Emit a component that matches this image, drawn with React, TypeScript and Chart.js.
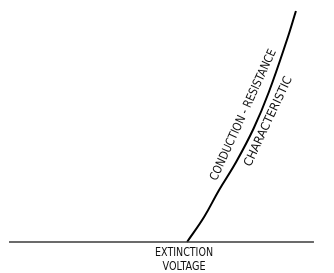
import React, { useEffect, useRef } from "react";
import { Chart, registerables } from "chart.js";

Chart.register(...registerables);

// Voltage (x, arbitrary units) vs conduction (y, arbitrary units)
const curveVoltage = [56.0, 61.1, 65.6, 70.7, 76.0, 80.5, 85.9, 88.6];
const curveValue = [0, 25, 52, 80, 114, 150, 202, 231];
const baselineVoltage = [2.7, 94];
const baselineValue = [0, 0];
const curveLabel = ["CONDUCTION - RESISTANCE", "CHARACTERISTIC"];
const axisLabel = ["EXTINCTION", "VOLTAGE"];

const FONT = '"DejaVu Sans", sans-serif';

const labelsPlugin = {
  id: "labels",
  afterDraw(chart: any) {
    const { ctx, scales } = chart;
    const x = scales.x;
    const y = scales.y;
    ctx.save();
    ctx.fillStyle = "#111";
    ctx.font = `12px ${FONT}`;
    try { (ctx as any).fontStretch = "condensed"; } catch (e) {}
    ctx.textAlign = "center";
    ctx.textBaseline = "middle";
    const rot = [
      { vx: 72.9, vy: 127, a: -65.3, len: 143 },
      { vx: 80.4, vy: 120.5, a: -64.8, len: 98 },
    ];
    curveLabel.forEach((t, i) => {
      ctx.save();
      ctx.translate(x.getPixelForValue(rot[i].vx), y.getPixelForValue(rot[i].vy));
      ctx.rotate((rot[i].a * Math.PI) / 180);
      const w = ctx.measureText(t).width;
      ctx.scale(rot[i].len / w, 1);
      ctx.fillText(t, 0, 0);
      ctx.restore();
    });
    const cx = x.getPixelForValue(55.1);
    const by = y.getPixelForValue(0);
    const lens = [58, 43];
    axisLabel.forEach((t, i) => {
      ctx.save();
      ctx.translate(cx, by + 11 + i * 14);
      const w = ctx.measureText(t).width;
      ctx.scale(lens[i] / w, 1);
      ctx.fillText(t, 0, 0);
      ctx.restore();
    });
    ctx.restore();
  },
};

export default function App() {
  const ref = useRef<HTMLCanvasElement>(null);
  useEffect(() => {
    document.body.style.margin = "0";
    const chart = new Chart(ref.current!, {
      type: "scatter",
      data: {
        datasets: [
          {
            data: baselineVoltage.map((v, i) => ({ x: v, y: baselineValue[i] })),
            showLine: true,
            borderColor: "#3a3a3a",
            borderWidth: 1.3,
            pointRadius: 0,
          },
          {
            data: curveVoltage.map((v, i) => ({ x: v, y: curveValue[i] })),
            showLine: true,
            borderColor: "#000",
            borderWidth: 2,
            pointRadius: 0,
            tension: 0.4,
          },
        ],
      },
      options: {
        animation: false,
        responsive: false,
        layout: { padding: 0 },
        plugins: { legend: { display: false }, tooltip: { enabled: false } },
        scales: {
          x: { type: "linear", min: 0, max: 100, display: false },
          y: { type: "linear", min: -31, max: 242, display: false },
        },
      },
      plugins: [labelsPlugin],
    });
    return () => chart.destroy();
  }, []);
  return (
    <div style={{ width: 334, height: 273, background: "#fff" }}>
      <canvas ref={ref} width={334} height={273} />
    </div>
  );
}
